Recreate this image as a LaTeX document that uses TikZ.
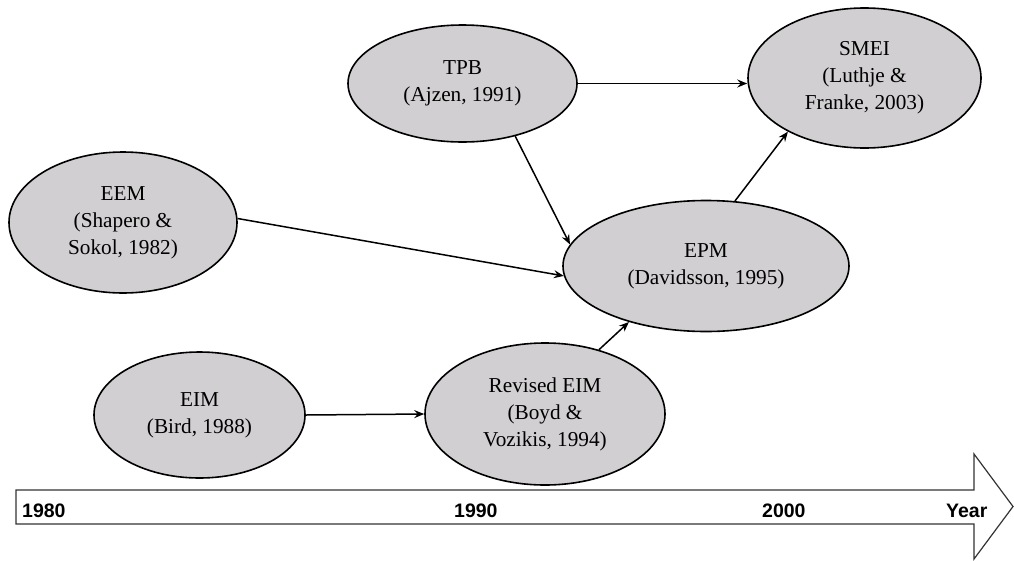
\documentclass[tikz,border=0pt]{standalone}
\usepackage{fontspec}
\setmainfont{Liberation Serif}
\newfontfamily\tlfont{Liberation Sans}
\usetikzlibrary{shapes.geometric,arrows.meta}
\definecolor{ellfill}{RGB}{209,207,209}
\tikzset{
  model/.style={ellipse, draw=black, line width=1.6pt, fill=ellfill, inner sep=0pt,
    align=center, font=\fontsize{21.25}{27}\selectfont},
  link/.style={line width=1.5pt, -{Stealth[length=10pt,width=8pt,inset=3.5pt]}},
  yearlabel/.style={anchor=base west, inner sep=0pt, font=\tlfont\bfseries\fontsize{19.5}{20}\selectfont}
}
\begin{document}
\begin{tikzpicture}[x=1pt,y=-1pt]
\useasboundingbox (0,0) rectangle (1014,560);
% timeline arrow
\draw[line width=1.2pt, draw=black!80, fill=white]
  (16,490) -- (974,490) -- (974,454) -- (1013,506.5) -- (974,559) -- (974,524) -- (16,524) -- cycle;
\node[yearlabel] (y1980) at (22,517) {1980};
\node[yearlabel] (y1990) at (454,517) {1990};
\node[yearlabel] (y2000) at (762,517) {2000};
\node[yearlabel] (year) at (946,517) {Year};
% models
\node[model, minimum width=229pt, minimum height=117pt] (TPB) at (462.5,83.5) {TPB\\(Ajzen, 1991)};
\node[model, minimum width=233pt, minimum height=140pt] (SMEI) at (864.5,78) {SMEI\\(Luthje \&\\Franke, 2003)};
\node[model, minimum width=228pt, minimum height=141pt] (EEM) at (123,222.5) {EEM\\(Shapero \&\\Sokol, 1982)};
\node[model, minimum width=286pt, minimum height=131pt] (EPM) at (706,266) {EPM\\(Davidsson, 1995)};
\node[model, minimum width=211pt, minimum height=126pt] (EIM) at (199.5,415) {EIM\\(Bird, 1988)};
\node[model, minimum width=240pt, minimum height=142pt] (REIM) at (545,414) {Revised EIM\\(Boyd \&\\Vozikis, 1994)};
% connectors
\draw[link] (TPB.east) -- (TPB.east -| SMEI.west);
\draw[link] (TPB.-45) -- (EPM.171);
\draw[link] (EEM.2) -- (EPM.184);
\draw[link] (EPM.66) -- (SMEI.215);
\draw[link] (EIM.east) -- (REIM.west);
\draw[link] (REIM.50) -- (EPM.216);
\end{tikzpicture}
\end{document}
